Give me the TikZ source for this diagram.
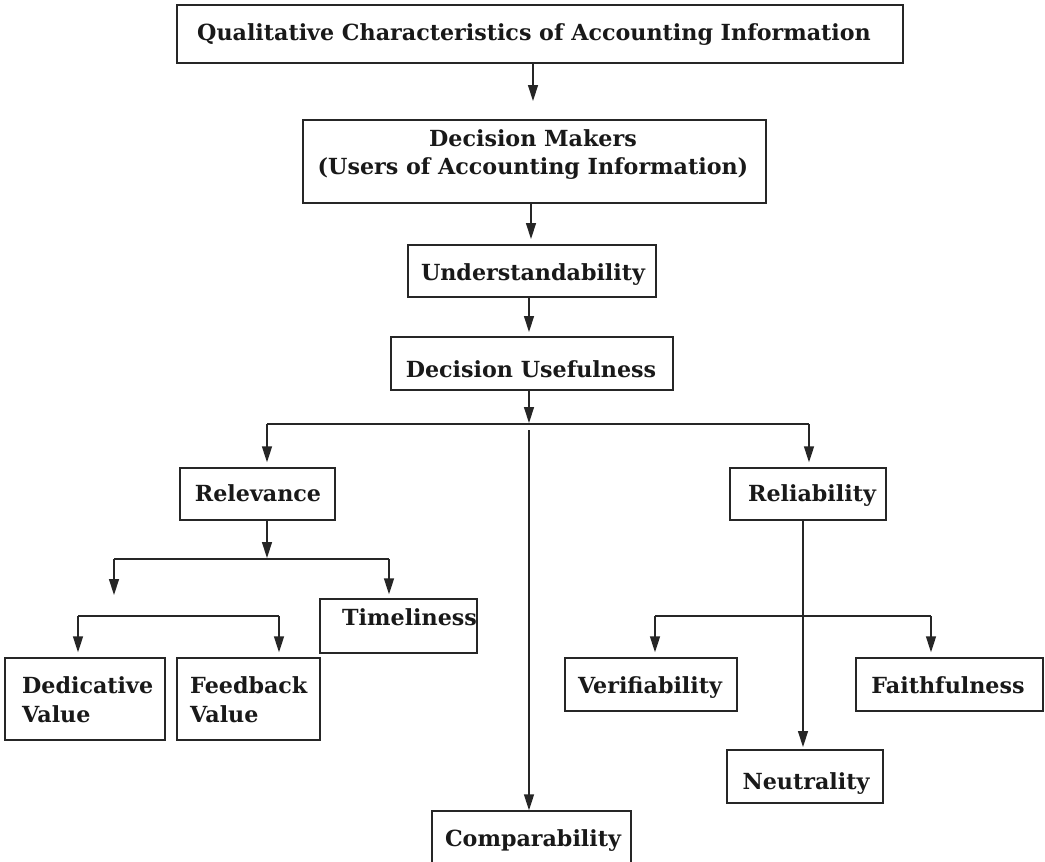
\documentclass[tikz,border=0pt]{standalone}
\usepackage{fontspec}
\setmainfont{DejaVu Serif}
\usetikzlibrary{arrows.meta,fit}
\begin{document}
\begin{tikzpicture}[x=1pt,y=-1pt,
  box/.style={draw=black!85, line width=1.4pt, inner sep=0pt},
  lbl/.style={font=\bfseries\fontsize{22.2}{26}\selectfont, inner sep=0pt, anchor=base, text=black!90},
  lbll/.style={lbl, anchor=base west},
  conn/.style={draw=black!85, line width=1.4pt},
  arr/.style={conn, -{Triangle[width=10pt,length=16pt]}}
]
\clip (0,0) rectangle (1045,862);
\fill[white] (0,0) rectangle (1045,862);

% boxes
\node[box, fit={(177,5) (903,63)}] (title) {};
\node[box, fit={(303,120) (766,203)}] (dm) {};
\node[box, fit={(408,245) (656,297)}] (und) {};
\node[box, fit={(391,337) (673,390)}] (du) {};
\node[box, fit={(180,468) (335,520)}] (rel) {};
\node[box, fit={(730,468) (886,520)}] (reli) {};
\node[box, fit={(320,599) (477,653)}] (time) {};
\node[box, fit={(5,658) (165,740)}] (ded) {};
\node[box, fit={(177,658) (320,740)}] (feed) {};
\node[box, fit={(565,658) (737,711)}] (ver) {};
\node[box, fit={(856,658) (1043,711)}] (faith) {};
\node[box, fit={(727,750) (883,803)}] (neut) {};
\node[box, fit={(432,811) (631,900)}] (comp) {};

% labels
\node[lbl] (titleT) at (534,40) {Qualitative Characteristics of Accounting Information};
\node[lbl] (dmT1) at (533,146) {Decision Makers};
\node[lbl] (dmT2) at (533,174) {(Users of Accounting Information)};
\node[lbl] (undT) at (533,280) {Understandability};
\node[lbl] (duT) at (531,377) {Decision Usefulness};
\node[lbl] (relT) at (258,501) {Relevance};
\node[lbl] (reliT) at (812,501) {Reliability};
\node[lbll] (timeT) at (342,625) {Timeliness};
\node[lbll] (dedT1) at (22,693) {Dedicative};
\node[lbll] (dedT2) at (22,722) {Value};
\node[lbll] (feedT1) at (190,693) {Feedback};
\node[lbll] (feedT2) at (190,722) {Value};
\node[lbl] (verT) at (650,693) {Verifiability};
\node[lbl] (faithT) at (948,693) {Faithfulness};
\node[lbl] (neutT) at (806,789) {Neutrality};
\node[lbl] (compT) at (533,846) {Comparability};

% connector points
\coordinate (t1) at (533,101);
\coordinate (t2) at (531,239);
\coordinate (t3) at (529,332);
\coordinate (t4) at (529,423);
\coordinate (jl) at (267,424);
\coordinate (jr) at (809,424);
\coordinate (c0) at (529,430);
\coordinate (r0) at (267,558);
\coordinate (r1) at (114,559);
\coordinate (r2) at (389,559);
\coordinate (r1t) at (114,595);
\coordinate (d1) at (78,616);
\coordinate (d2) at (279,616);
\coordinate (n0) at (803,747);
\coordinate (v1) at (655,616);
\coordinate (v2) at (931,616);

% connectors
\draw[arr] (t1 |- title.south) -- (t1);
\draw[arr] (t2 |- dm.south) -- (t2);
\draw[arr] (t3 |- und.south) -- (t3);
\draw[arr] (t4 |- du.south) -- (t4);
\draw[conn] (jl) -- (jr);
\draw[arr, shorten >=5pt] (jl) -- (jl |- rel.north);
\draw[arr, shorten >=5pt] (jr) -- (jr |- reli.north);
\draw[arr] (c0) -- (c0 |- comp.north);
\draw[arr] (r0 |- rel.south) -- (r0);
\draw[conn] (r1) -- (r2);
\draw[arr] (r1) -- (r1t);
\draw[arr, shorten >=4pt] (r2) -- (r2 |- time.north);
\draw[conn] (d1) -- (d2);
\draw[arr, shorten >=5pt] (d1) -- (d1 |- ded.north);
\draw[arr, shorten >=5pt] (d2) -- (d2 |- feed.north);
\draw[arr] (n0 |- reli.south) -- (n0);
\draw[conn] (v1) -- (v2);
\draw[arr, shorten >=5pt] (v1) -- (v1 |- ver.north);
\draw[arr, shorten >=5pt] (v2) -- (v2 |- faith.north);
\end{tikzpicture}
\end{document}
